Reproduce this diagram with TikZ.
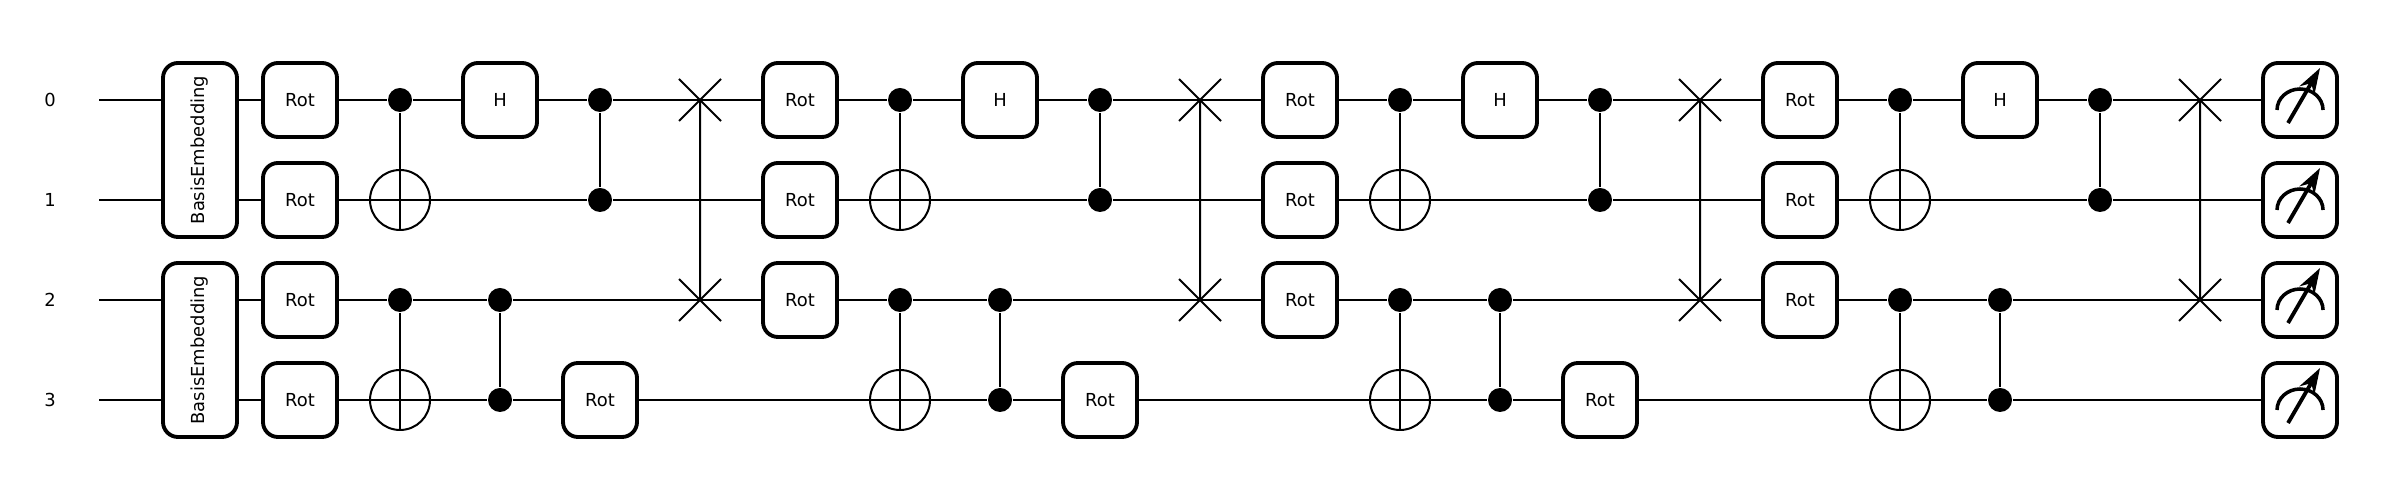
\documentclass[tikz,border=0pt]{standalone}
\usepackage{fontspec}
\setmainfont{DejaVu Sans}
\usetikzlibrary{arrows.meta, positioning, shapes.misc}

\begin{document}
\begin{tikzpicture}[>={Stealth[open,length=2.6mm,width=1.7mm]}, on grid, node distance=1cm, line width=0.57pt,
        every node/.style={font=\fontsize{5.1}{6}\selectfont},
        gate/.style={rectangle, draw, fill=white, line width=1.1pt, rounded corners=0.15cm, minimum width=0.74cm, minimum height=0.74cm, inner sep=0pt},
        embed/.style={gate, minimum height=1.74cm},
        ctrl/.style={circle, fill=black, minimum size=0.24cm, inner sep=0pt},
        cnot/.style={circle, draw, minimum size=0.6cm, inner sep=0pt, path picture={
            \draw (path picture bounding box.north) -- (path picture bounding box.south);
            \draw (path picture bounding box.west) -- (path picture bounding box.east);}},
        swapx/.style={cross out, draw, minimum size=0.4cm, inner sep=0pt}]

        \useasboundingbox (0,0) rectangle (24,5);

        % wire labels
        \node (l0) at (0.5,4) {0};
        \node (l1) [below=of l0] {1};
        \node (l2) [below=of l1] {2};
        \node (l3) [below=of l2] {3};
        \coordinate (w0) at (0.99,4);
        \coordinate (w1) at (0.99,3);
        \coordinate (w2) at (0.99,2);
        \coordinate (w3) at (0.99,1);

        \node (emb0) [embed] at (2,3.5) {\rotatebox{90}{BasisEmbedding}};
        \node (emb1) [embed] at (2,1.5) {\rotatebox{90}{BasisEmbedding}};

        % one block of the circuit, four times
        \foreach \k/\x in {a/3, b/8, c/13, d/18} {
            \node (r0\k) [gate] at (\x,4) {Rot};
            \node (r1\k) [gate, below=of r0\k] {Rot};
            \node (r2\k) [gate, below=of r1\k] {Rot};
            \node (c0\k) [ctrl, right=of r0\k] {};
            \node (x1\k) [cnot, right=of r1\k] {};
            \node (c2\k) [ctrl, right=of r2\k] {};
            \node (x3\k) [cnot, below=of c2\k] {};
            \node (h\k) [gate, right=of c0\k] {H};
            \node (e0\k) [ctrl, right=of h\k] {};
            \node (e1\k) [ctrl, below=of e0\k] {};
            \node (e2\k) [ctrl, right=of c2\k] {};
            \node (e3\k) [ctrl, right=of x3\k] {};
            \node (s0\k) [swapx, right=of e0\k] {};
            \node (s2\k) [swapx, right=2cm of e2\k] {};

            \draw (c0\k) -- (x1\k);
            \draw (c2\k) -- (x3\k);
            \draw (e0\k) -- (e1\k);
            \draw (e2\k) -- (e3\k);
            \draw (s0\k.center) -- (s2\k.center);
            \draw (r0\k) -- (c0\k) -- (h\k) -- (e0\k) -- (s0\k.center);
            \draw (r1\k) -- (x1\k) -- (e1\k);
            \draw (r2\k) -- (c2\k) -- (e2\k) -- (s2\k.center);
            \draw (x3\k) -- (e3\k);
        }

        \node (r3a) [gate, below=of r2a] {Rot};
        \node (m0) [gate, right=of s0d] {};
        \node (m1) [gate, below=of m0] {};
        \node (m2) [gate, below=of m1] {};
        \node (m3) [gate, below=of m2] {};

        % wires between the blocks
        \draw (w0) -- (w0 -| emb0.west);
        \draw (w1) -- (w1 -| emb0.west);
        \draw (w2) -- (w2 -| emb1.west);
        \draw (w3) -- (w3 -| emb1.west);
        \draw (w0 -| emb0.east) -- (r0a);
        \draw (w1 -| emb0.east) -- (r1a);
        \draw (w2 -| emb1.east) -- (r2a);
        \draw (w3 -| emb1.east) -- (r3a);
        \draw (r3a) -- (x3a);
        \foreach \k/\n in {a/b, b/c, c/d} {
            \node (t\k) [gate, right=of e3\k] {Rot};
            \draw (e3\k) -- (t\k) -- (x3\n);
            \draw (s0\k.center) -- (r0\n);
            \draw (e1\k) -- (r1\n);
            \draw (s2\k.center) -- (r2\n);
        }
        \draw (s0d.center) -- (m0);
        \draw (e1d) -- (m1);
        \draw (s2d.center) -- (m2);
        \draw (e3d) -- (m3);

        % meter faces
        \foreach \m in {m0, m1, m2, m3} {
            \draw[line width=1pt] ([shift={(-0.23,-0.1)}]\m.center) arc[start angle=180, end angle=0, x radius=0.23, y radius=0.21];
            \draw[->, line width=1.1pt] ([shift={(-0.12,-0.23)}]\m.center) -- ([shift={(0.2,0.32)}]\m.center);
        }
\end{tikzpicture}
\end{document}
